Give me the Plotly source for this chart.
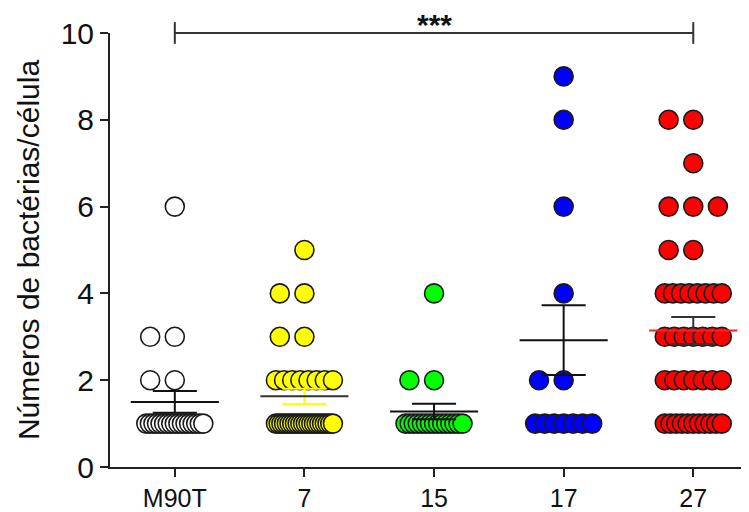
import numpy as np
import plotly.graph_objects as go

# ---- data ----
categories = ["M90T", "7", "15", "17", "27"]

vals_m90t = [6, 3, 3, 2, 2,
             1, 1, 1, 1, 1, 1, 1, 1, 1, 1, 1, 1, 1, 1, 1, 1, 1]
vals_7 = [5, 4, 4, 3, 3,
          2, 2, 2, 2, 2, 2, 2, 2,
          1, 1, 1, 1, 1, 1, 1, 1, 1, 1, 1, 1, 1, 1, 1, 1, 1, 1, 1, 1, 1, 1]
vals_15 = [4, 2, 2,
           1, 1, 1, 1, 1, 1, 1, 1, 1, 1, 1, 1, 1, 1, 1]
vals_17 = [9, 8, 6, 4, 2, 2,
           1, 1, 1, 1, 1, 1, 1]
vals_27 = [8, 8, 7, 6, 6, 6, 5, 5,
           4, 4, 4, 4, 4, 4, 4, 4,
           3, 3, 3, 3, 3, 3, 3,
           2, 2, 2, 2, 2, 2, 2,
           1, 1, 1, 1, 1, 1, 1, 1, 1, 1, 1]
groups = [vals_m90t, vals_7, vals_15, vals_17, vals_27]

y_ticks = [0, 2, 4, 6, 8, 10]
sig_label = "***"
y_title = "Números de bactérias/célula"

# ---- styles ----
fill_colors = ["#FFFFFF", "#FFFF00", "#00FF00", "#0000FF", "#FF0000"]
mean_colors = ["#111111", "#333333", "#111111", "#111111", "#FF2020"]
sem_colors = ["#111111", "#FFFF00", "#111111", "#111111", "#333333"]
edge = "#1a1a1a"
font_family = "Liberation Sans, Arial, sans-serif"


def swarm_offsets(k, step=0.19, cap=0.22):
    if k == 1:
        return [0.0]
    if k == 2:
        return [-step, 0.0]
    if k == 3:
        return [-step, 0.0, step]
    half = min((k - 1) * step / 2, cap)
    return list(np.linspace(-half, half, k))


fig = go.Figure()

for gi, vals in enumerate(groups):
    xs, ys = [], []
    for v in sorted(set(vals), reverse=True):
        k = vals.count(v)
        for off in swarm_offsets(k):
            xs.append(gi + off)
            ys.append(v)
    fig.add_trace(go.Scatter(
        x=xs, y=ys, mode="markers", showlegend=False, hoverinfo="y",
        cliponaxis=False,
        marker=dict(size=19, color=fill_colors[gi], symbol="circle",
                    line=dict(color=edge, width=1.6)),
    ))

# mean +/- SEM lines (drawn on top of points)
for gi, vals in enumerate(groups):
    arr = np.array(vals, dtype=float)
    m = arr.mean()
    s = arr.std(ddof=1) / np.sqrt(len(arr))
    xs = [gi - 0.17, gi + 0.17, None, gi, gi, None, gi - 0.17, gi + 0.17]
    ys = [m + s, m + s, None, m + s, m - s, None, m - s, m - s]
    fig.add_trace(go.Scatter(x=xs, y=ys, mode="lines", showlegend=False,
                             hoverinfo="skip",
                             line=dict(color=sem_colors[gi], width=2)))
    fig.add_trace(go.Scatter(x=[gi - 0.34, gi + 0.34], y=[m, m], mode="lines",
                             showlegend=False, hoverinfo="skip",
                             line=dict(color=mean_colors[gi], width=2)))

# significance bracket between first and last group
first, last = 0, len(categories) - 1
fig.add_shape(type="line", xref="x", yref="paper", x0=first, x1=last, y0=1, y1=1,
              line=dict(color="#333333", width=2))
for xe in (first, last):
    fig.add_shape(type="line", xref="x", yref="paper", x0=xe, x1=xe,
                  y0=0.975, y1=1.025, line=dict(color="#333333", width=2))
fig.add_annotation(x=(first + last) / 2, xref="x", y=0.978, yref="paper",
                   text="<b>" + sig_label + "</b>", showarrow=False,
                   yanchor="bottom", font=dict(size=30, color="#111111",
                                               family=font_family))

# page body has an 8px margin, so the figure is sized/margined to fit the window
fig.update_layout(
    width=741, height=504,
    margin=dict(l=102, r=0, t=25, b=45, autoexpand=False),
    paper_bgcolor="white", plot_bgcolor="white",
    font=dict(family=font_family, color="#111111"),
)
fig.update_xaxes(
    range=[-0.5, 4.43], tickmode="array", tickvals=list(range(len(categories))),
    ticktext=categories, showline=True, linecolor="#222222", linewidth=2,
    ticks="outside", ticklen=8, tickwidth=2, tickcolor="#222222",
    tickfont=dict(size=25), showgrid=False, zeroline=False, automargin=False,
)
fig.update_yaxes(
    range=[0, 10], tickvals=y_ticks, showline=True, linecolor="#222222",
    linewidth=2, ticks="outside", ticklen=8, tickwidth=2, tickcolor="#222222",
    tickfont=dict(size=30), showgrid=False, zeroline=False, automargin=False,
    title=dict(text=y_title, font=dict(size=30), standoff=12),
)

fig.write_html("out.html")
